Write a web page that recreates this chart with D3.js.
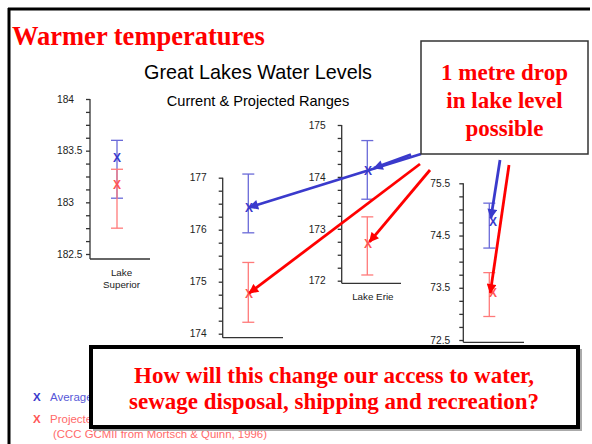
<!DOCTYPE html>
<html><head><meta charset="utf-8">
<script src="https://cdn.jsdelivr.net/npm/d3@7"></script>
<style>body{margin:0;background:#fff}svg{display:block}</style>
</head><body>
<svg id="c" width="592" height="444"></svg>
<script>
// ---- data ----
const lakes = ["Lake Superior", "Lakes Michigan-Huron", "Lake Erie", "Lake Ontario"];
const labelLines = [["Lake", "Superior"], [], ["Lake Erie"], []]; // labels of panels 2 and 4 are hidden by the call-out box
const avgLow  = [183.04, 175.94, 173.57, 74.26];
const avgHigh = [183.60, 177.07, 174.70, 75.12];
const avgMean = [183.43, 176.43, 174.13, 74.76];
const projLow  = [182.75, 174.22, 172.11, 72.95];
const projHigh = [183.32, 175.37, 173.23, 73.79];
const projMean = [183.17, 174.78, 172.72, 73.40];
const domainMin = [182.5, 174, 172, 72.5];
const domainMax = [184, 177, 175, 75.5];
const tickStep = [0.125, 0.25, 0.25, 0.25];
const tickLabels = [[182.5, 183, 183.5, 184], [174, 175, 176, 177], [172, 173, 174, 175], [72.5, 73.5, 74.5, 75.5]];
const legendLabels = ["Average", "Projected", "(CCC GCMII from Mortsch & Quinn, 1996)"];

// ---- layout (pixels) ----
const panels = [
  {ax: 90,    top: 99,    bot: 254,   base: 259,   end: 150, bx: 117,   mx: 117},
  {ax: 222.7, top: 177.7, bot: 333.7, base: 337.7, end: 283, bx: 248.3, mx: 249},
  {ax: 341.7, top: 125,   bot: 280.7, base: 283.3, end: 401, bx: 367.3, mx: 368},
  {ax: 463.3, top: 183.3, bot: 340,   base: 342.3, end: 524, bx: 489.3, mx: 493}
];
const blueC = "#3a3acc", blueBar = "#6a6ad8", redC = "#ff0000", redBar = "#ff7a7a", redX = "#ff5555";
const sans = "'Liberation Sans', Arial, sans-serif", serif = "'Liberation Serif', 'Times New Roman', serif";

const svg = d3.select("#c");
svg.append("rect").attr("width",592).attr("height",444).attr("fill","#fff");
// frame
svg.append("line").attr("x1",9).attr("x2",9).attr("y1",8).attr("y2",444).attr("stroke","#000").attr("stroke-width",3);
svg.append("line").attr("x1",8).attr("x2",590).attr("y1",9).attr("y2",9).attr("stroke","#000").attr("stroke-width",3);

svg.append("text").attr("x",12).attr("y",45).attr("fill","#ff0000")
  .style("font-family",serif).style("font-weight","bold").style("font-size","26.5px")
  .text("Warmer temperatures");
svg.append("text").attr("x",258).attr("y",79).attr("text-anchor","middle").attr("fill","#000")
  .style("font-family",sans).style("font-size","19.8px")
  .text("Great Lakes Water Levels");
svg.append("text").attr("x",258).attr("y",106).attr("text-anchor","middle").attr("fill","#000")
  .style("font-family",sans).style("font-size","14.6px")
  .text("Current & Projected Ranges");

const scales = [];
panels.forEach((p, i) => {
  const y = d3.scaleLinear().domain([domainMin[i], domainMax[i]]).range([p.bot, p.top]);
  scales.push(y);
  const g = svg.append("g");
  const ticks = d3.range(domainMin[i], domainMax[i] + 1e-9, tickStep[i]);
  const axis = d3.axisLeft(y).tickValues(ticks).tickSize(4).tickFormat("");
  const ag = g.append("g").attr("transform", `translate(${p.ax},0)`).call(axis);
  ag.select(".domain").remove();
  ag.selectAll(".tick line").attr("stroke","#333").attr("stroke-width",1.3);
  g.append("line").attr("x1",p.ax).attr("x2",p.ax).attr("y1",p.top).attr("y2",p.base).attr("stroke","#333").attr("stroke-width",1.3);
  g.append("line").attr("x1",p.ax).attr("x2",p.end).attr("y1",p.base).attr("y2",p.base).attr("stroke","#333").attr("stroke-width",1.3);
  g.selectAll("text.tl").data(tickLabels[i]).join("text").attr("class","tl")
    .attr("x", p.ax - 33).attr("y", d => y(d) + 3.7)
    .style("font-family",sans).style("font-size","10.2px").attr("fill","#222")
    .text(d => d3.format(".1~f")(d));
  // category label
  const lc = (p.ax + p.end) / 2 + 1.5;
  labelLines[i].forEach((t, k) => {
    g.append("text").attr("x", lc).attr("y", p.base + 17 + k * 11.5).attr("text-anchor","middle")
      .style("font-family",sans).style("font-size","9.8px").attr("fill","#222").text(t);
  });
  // error bars
  const bar = (lo, hi, col) => {
    g.append("line").attr("x1",p.bx).attr("x2",p.bx).attr("y1",y(lo)).attr("y2",y(hi)).attr("stroke",col).attr("stroke-width",1.3);
    [lo, hi].forEach(v => g.append("line").attr("x1",p.bx-6).attr("x2",p.bx+6).attr("y1",y(v)).attr("y2",y(v)).attr("stroke",col).attr("stroke-width",1.3));
  };
  bar(avgLow[i], avgHigh[i], blueBar);
  bar(projLow[i], projHigh[i], redBar);
  const xm = (v, col) => g.append("text").attr("x", p.mx).attr("y", y(v) + 4.5).attr("text-anchor","middle")
    .style("font-family",sans).style("font-size","12px").style("font-weight","bold").attr("fill",col).text("X");
  xm(avgMean[i], blueC);
  xm(projMean[i], redX);
});

// arrows
const defs = svg.append("defs");
[["ab", blueC], ["ar", redC]].forEach(([id, col]) => {
  defs.append("marker").attr("id", id).attr("viewBox","0 0 10 10").attr("refX",9).attr("refY",5)
    .attr("markerWidth",4).attr("markerHeight",3.5).attr("orient","auto").attr("markerUnits","strokeWidth")
    .append("path").attr("d","M0,0 L10,5 L0,10 z").attr("fill", col);
});
const arrows = [
  {from: [421, 154], lake: 1, series: "avg", col: blueC, m: "ab", cut: 0},
  {from: [411, 154.5], lake: 2, series: "avg", col: blueC, m: "ab", cut: 6},
  {from: [500, 160], lake: 3, series: "avg", col: blueC, m: "ab", cut: 4},
  {from: [420, 164], lake: 1, series: "proj", col: redC, m: "ar", cut: 0},
  {from: [430, 170], lake: 2, series: "proj", col: redC, m: "ar", cut: 2},
  {from: [509, 165], lake: 3, series: "proj", col: redC, m: "ar", cut: 0}
];
arrows.forEach(a => {
  const p = panels[a.lake];
  const v = a.series === "avg" ? avgMean[a.lake] : projMean[a.lake];
  let tx = p.bx + 1, ty = scales[a.lake](v);
  const dx = tx - a.from[0], dy = ty - a.from[1], L = Math.hypot(dx, dy);
  tx -= dx / L * a.cut; ty -= dy / L * a.cut;
  svg.append("line").attr("x1", a.from[0]).attr("y1", a.from[1]).attr("x2", tx).attr("y2", ty)
    .attr("stroke", a.col).attr("stroke-width", 2.8).attr("marker-end", `url(#${a.m})`);
});

// top-right box
svg.append("rect").attr("x",421).attr("y",41).attr("width",167).attr("height",113).attr("fill","#fff").attr("stroke","#333").attr("stroke-width",1.5);
["1 metre drop", "in lake level", "possible"].forEach((t, k) => {
  svg.append("text").attr("x",504.5).attr("y",80 + k * 28).attr("text-anchor","middle").attr("fill","#ff0000")
    .style("font-family",serif).style("font-weight","bold").style("font-size","23px").text(t);
});

// legend
const lg = svg.append("g").style("font-family",sans);
lg.append("text").attr("x",33).attr("y",401).attr("fill",blueC).style("font-size","11.5px").style("font-weight","bold").text("X");
lg.append("text").attr("x",50).attr("y",401).attr("fill","#5858d8").style("font-size","11.5px").text(legendLabels[0]);
lg.append("text").attr("x",33).attr("y",423).attr("fill",redX).style("font-size","11.5px").style("font-weight","bold").text("X");
lg.append("text").attr("x",50).attr("y",423).attr("fill","#ff6a6a").style("font-size","11.5px").text(legendLabels[1]);
lg.append("text").attr("x",53).attr("y",437.5).attr("fill","#ff6a6a").style("font-size","11.4px").text(legendLabels[2]);

// bottom box with shadow
svg.append("rect").attr("x",93).attr("y",349).attr("width",489).attr("height",82).attr("fill","#aaa");
svg.append("rect").attr("x",91).attr("y",347).attr("width",487).attr("height",80).attr("fill","#fff").attr("stroke","#000").attr("stroke-width",4);
["How will this change our access to water,", "sewage disposal, shipping and recreation?"].forEach((t, k) => {
  svg.append("text").attr("x",334).attr("y",383 + k * 26).attr("text-anchor","middle").attr("fill","#ff0000")
    .style("font-family",serif).style("font-weight","bold").style("font-size","23px").text(t);
});
</script>
</body></html>
